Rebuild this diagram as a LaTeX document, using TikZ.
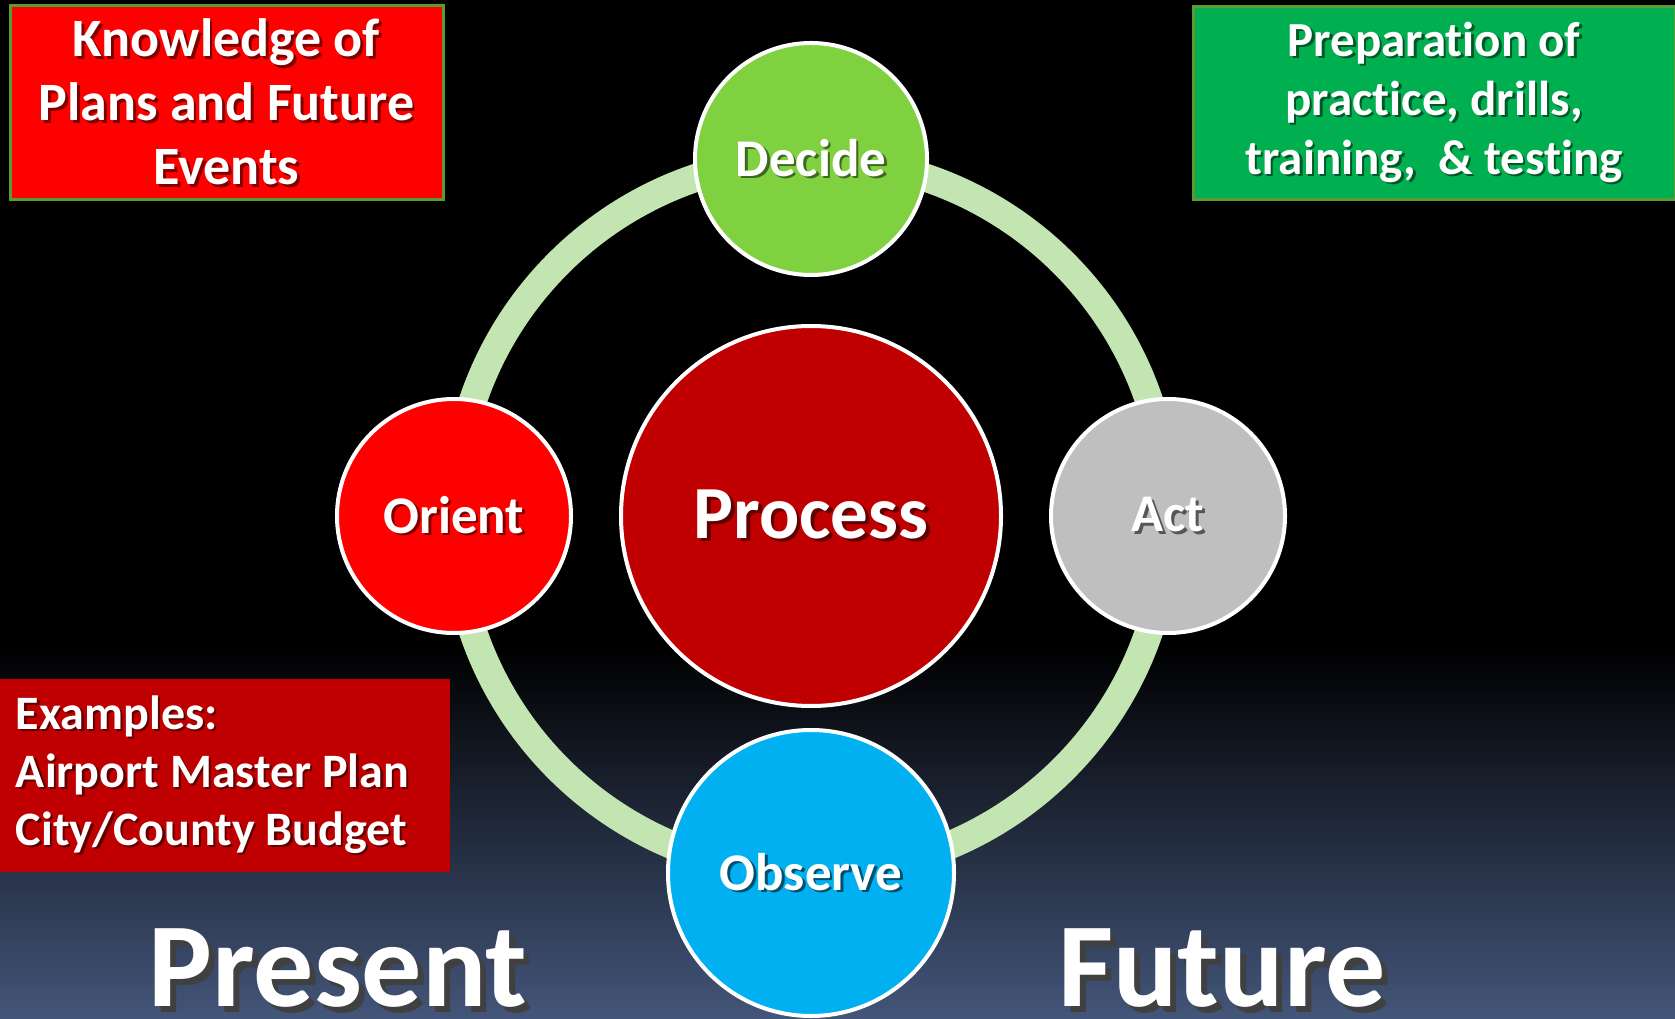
\documentclass[tikz,border=0pt]{standalone}
\usepackage{fontspec}
\setmainfont{Carlito}[Ligatures=CommonOff]
\usetikzlibrary{positioning}
\usetikzlibrary{backgrounds}

\definecolor{ringgreen}{HTML}{C3E5B1}
\definecolor{decidegreen}{HTML}{7FD13F}
\definecolor{processred}{HTML}{C00000}
\definecolor{orientred}{HTML}{FF0000}
\definecolor{actgray}{HTML}{BFBFBF}
\definecolor{observeblue}{HTML}{00B0F0}
\definecolor{prepgreen}{HTML}{00B050}
\definecolor{edgegreen}{HTML}{5B9B2F}
\definecolor{floorblue}{HTML}{435579}

% white text with a small dark copy behind it
\def\shcol{black}
\newcommand{\sh}[1]{\leavevmode\rlap{\kern0.05em\raisebox{-0.05em}{\color{\shcol}#1}}#1}

\tikzset{
	dropcol/.style={execute at begin node={\def\shcol{#1}}},
	stage/.style={circle, draw=white, line width=2pt, text=white, inner sep=0pt,
		font=\bfseries\fontsize{26.5pt}{30pt}\selectfont},
	infobox/.style={rectangle, text=white, inner sep=0pt, align=center},
	era/.style={anchor=base, text=white, dropcol=black!75,
		font=\bfseries\fontsize{60pt}{70pt}\selectfont},
}

\begin{document}
\begin{tikzpicture}[x=0.5pt, y=0.5pt]
	\useasboundingbox (0,0) rectangle (1675,1018);

	\node[stage, fill=processred, minimum size=190pt, dropcol=processred!50!black,
		font=\bfseries\fontsize{37.5pt}{40pt}\selectfont] at (811,502) (process)
		{\sh{Process}};

	\node[stage, fill=decidegreen, minimum size=116pt, dropcol=decidegreen!50!black] at (811,859) (decide)
		{\sh{Decide}};
	\node[stage, fill=orientred, minimum size=117pt, dropcol=orientred!50!black] at (454,502) (orient)
		{\sh{Orient}};
	\node[stage, fill=actgray, minimum size=117pt, dropcol=actgray!45!black] at (1168,502) (act)
		{\sh{Act}};
	\node[stage, fill=observeblue, minimum size=143pt, dropcol=observeblue!45!black] at (811,145) (observe)
		{\sh{Observe}};

	\node[infobox, fill=orientred, draw=edgegreen, line width=1.5pt, minimum width=216.5pt, minimum height=97pt,
		dropcol=orientred!50!black, font=\bfseries\fontsize{27pt}{32pt}\selectfont] at (226.5,915) (plans)
		{\sh{Knowledge of}\\\sh{Plans and Future}\\\sh{Events}};

	\node[infobox, fill=prepgreen, draw=edgegreen, line width=1.5pt, minimum width=241pt, minimum height=96.5pt,
		dropcol=prepgreen!50!black, font=\bfseries\fontsize{24.5pt}{29.5pt}\selectfont] at (1434,914.5) (prep)
		{\sh{Preparation of}\\\sh{practice, drills,}\\\sh{training,\ \ \& testing}};

	\node[infobox, fill=processred, minimum width=225pt, minimum height=96.5pt, align=flush left,
		text width=209pt, inner xsep=8pt, dropcol=processred!50!black,
		font=\bfseries\fontsize{24pt}{29pt}\selectfont] at (225,242.5) (examples)
		{\sh{Examples:}\\\sh{Airport Master Plan}\\\sh{City/County Budget}};

	\node[era] at (338,12) (present) {\sh{Present}};
	\node[era] at (1222,12) (future) {\sh{Future}};

	\begin{scope}[on background layer]
		\fill[black] (0,0) rectangle (1675,1018);
		\shade[top color=black, bottom color=floorblue] (0,0) rectangle (1675,370);
		\draw[ringgreen, line width=14pt] (decide.center) to[bend left=45] (act.center)
			to[bend left=45] (observe.center) to[bend left=45] (orient.center)
			to[bend left=45] (decide.center);
	\end{scope}
\end{tikzpicture}
\end{document}
